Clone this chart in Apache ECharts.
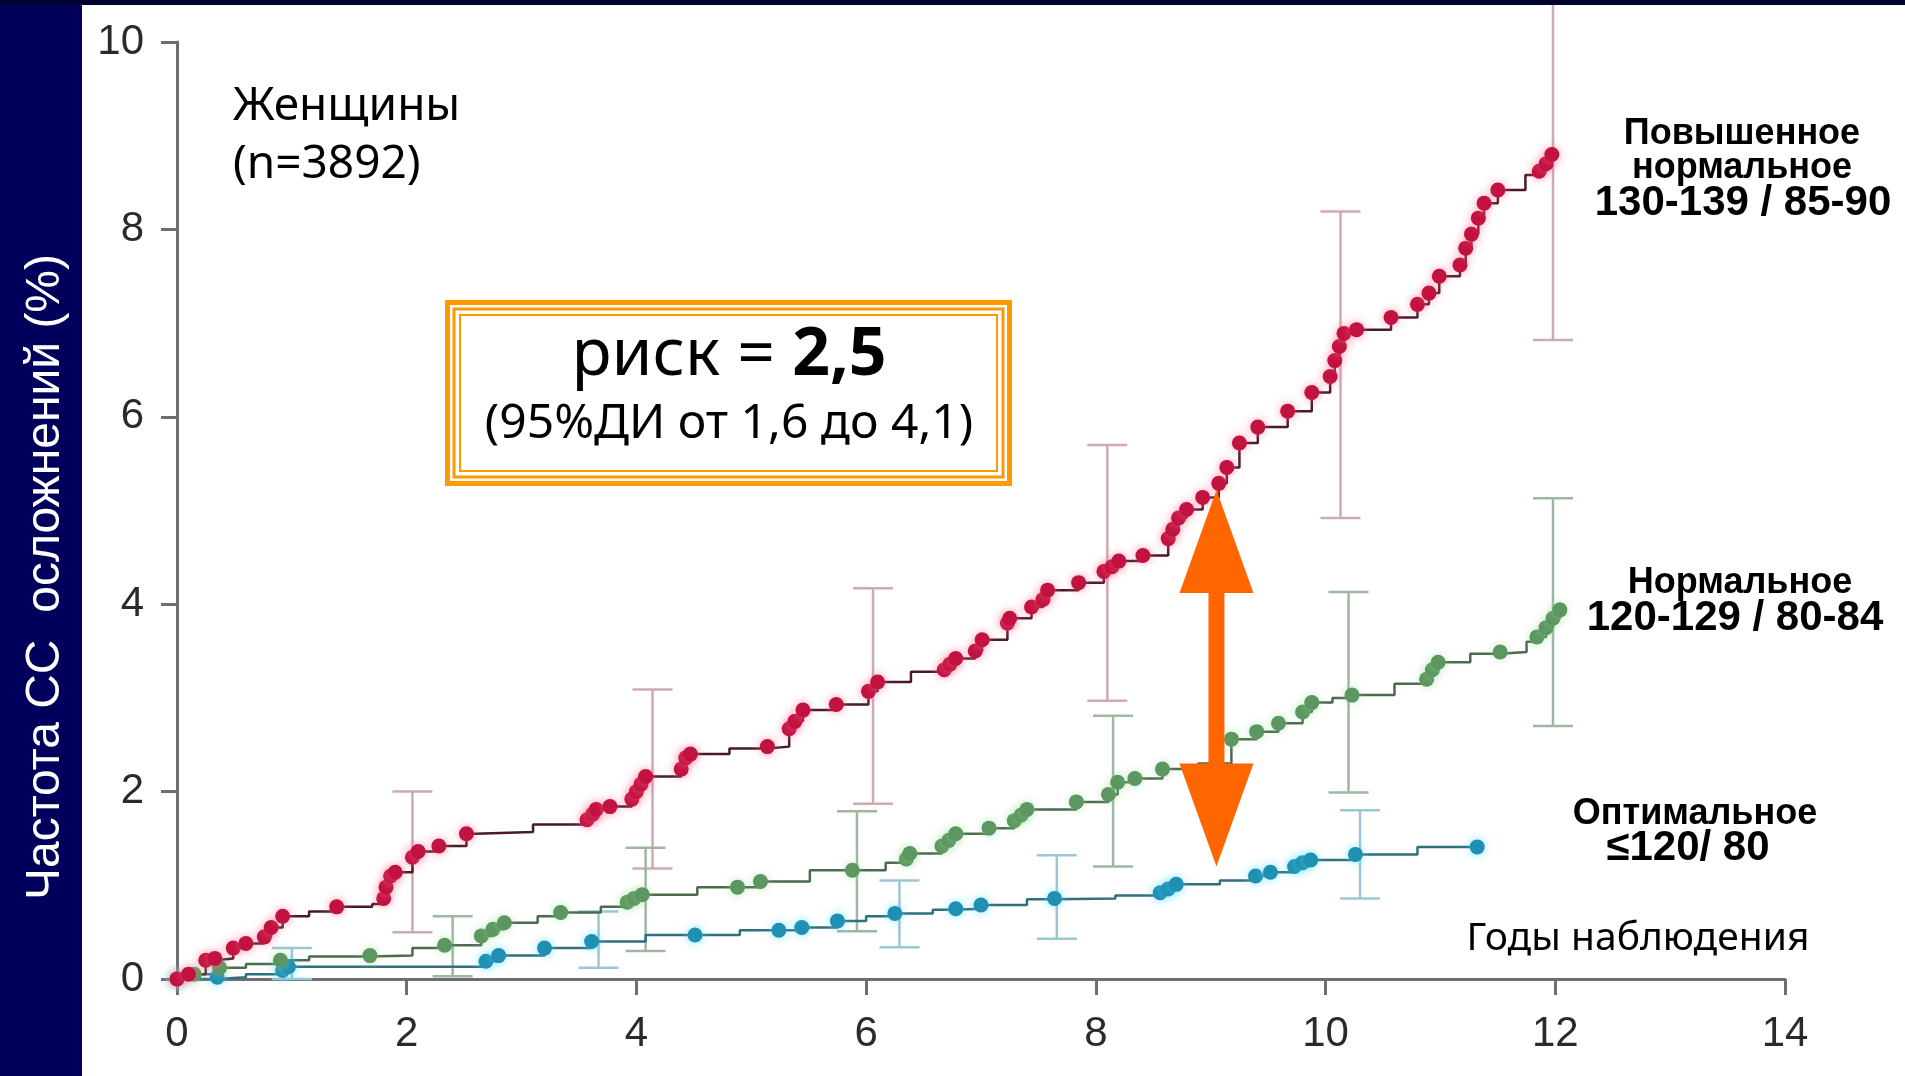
<!DOCTYPE html>
<html>
<head>
<meta charset="utf-8">
<title>Женщины — частота СС осложнений</title>
<script src="https://cdn.jsdelivr.net/npm/echarts@6/dist/echarts.min.js"></script>
<style>
  html, body {
    margin: 0;
    padding: 0;
    width: 1905px;
    height: 1076px;
    overflow: hidden;
    background: #00005c;
  }
  #topStrip {
    position: absolute;
    left: 0;
    top: 0;
    width: 1905px;
    height: 5px;
    background: #00002e;
    z-index: 2;
  }
  #panel {
    position: absolute;
    left: 82px;
    top: 5px;
    width: 1823px;
    height: 1071px;
    background: #fff;
  }
  #chart {
    position: absolute;
    left: 0;
    top: 0;
    width: 1905px;
    height: 1076px;
  }
</style>
</head>
<body>
<div id="panel"></div>
<div id="chart"></div>
<div id="topStrip"></div>

<script>
// axis ticks
const xTicks = [0, 2, 4, 6, 8, 10, 12, 14];
const yTicks = [0, 2, 4, 6, 8, 10];

// cumulative incidence curves: [year, %, marker (1) / plain step (0)]
const highNormal = [
  [0, 0, 1], [0.1, 0.05, 1], [0.25, 0.2, 1], [0.33, 0.22, 1], [0.49, 0.33, 1],
  [0.6, 0.38, 1], [0.76, 0.45, 1], [0.82, 0.55, 1], [0.92, 0.67, 1], [1.15, 0.72, 0],
  [1.39, 0.77, 1], [1.7, 0.8, 0], [1.8, 0.86, 1], [1.82, 0.98, 1], [1.86, 1.1, 1],
  [1.9, 1.14, 1], [2.05, 1.3, 1], [2.1, 1.36, 1], [2.28, 1.42, 1], [2.52, 1.55, 1],
  [2.6, 1.57, 0], [3.1, 1.65, 0], [3.57, 1.7, 1], [3.62, 1.76, 1], [3.65, 1.81, 1],
  [3.77, 1.84, 1], [3.96, 1.92, 1], [4.0, 2.0, 1], [4.04, 2.08, 1], [4.08, 2.16, 1],
  [4.39, 2.24, 1], [4.43, 2.36, 1], [4.47, 2.4, 1], [4.81, 2.46, 0], [5.14, 2.48, 1],
  [5.33, 2.67, 1], [5.38, 2.75, 1], [5.45, 2.87, 1], [5.74, 2.93, 1], [6.02, 3.07, 1],
  [6.1, 3.17, 1], [6.39, 3.28, 0], [6.68, 3.3, 1], [6.73, 3.36, 1], [6.78, 3.42, 1],
  [6.95, 3.5, 1], [7.01, 3.62, 1], [7.23, 3.8, 1], [7.25, 3.85, 1], [7.44, 3.97, 1],
  [7.54, 4.05, 1], [7.58, 4.15, 1], [7.85, 4.23, 1], [8.07, 4.35, 1], [8.14, 4.4, 1],
  [8.2, 4.46, 1], [8.41, 4.52, 1], [8.63, 4.7, 1], [8.67, 4.8, 1], [8.72, 4.92, 1],
  [8.79, 5.01, 1], [8.93, 5.14, 1], [9.07, 5.29, 1], [9.14, 5.46, 1], [9.25, 5.72, 1],
  [9.41, 5.89, 1], [9.67, 6.06, 1], [9.88, 6.26, 1], [10.04, 6.43, 1], [10.08, 6.6, 1],
  [10.12, 6.75, 1], [10.16, 6.89, 1], [10.27, 6.93, 1], [10.57, 7.06, 1], [10.8, 7.2, 1],
  [10.9, 7.32, 1], [10.99, 7.5, 1], [11.17, 7.62, 1], [11.22, 7.8, 1], [11.27, 7.95, 1],
  [11.33, 8.12, 1], [11.38, 8.28, 1], [11.5, 8.42, 1], [11.74, 8.58, 0], [11.86, 8.62, 1],
  [11.92, 8.7, 1], [11.97, 8.8, 1]
];

const normal = [
  [0, 0, 1], [0.15, 0.05, 1], [0.37, 0.12, 1], [0.6, 0.16, 0], [0.9, 0.2, 1],
  [1.15, 0.24, 0], [1.68, 0.25, 1], [2.05, 0.33, 0], [2.33, 0.36, 1], [2.65, 0.46, 1],
  [2.75, 0.53, 1], [2.85, 0.6, 1], [3.14, 0.67, 0], [3.34, 0.71, 1], [3.69, 0.77, 0],
  [3.92, 0.82, 1], [3.98, 0.86, 1], [4.05, 0.9, 1], [4.53, 0.98, 0], [4.88, 0.98, 1],
  [5.08, 1.04, 1], [5.51, 1.16, 0], [5.88, 1.16, 1], [6.17, 1.24, 0], [6.35, 1.28, 1],
  [6.38, 1.34, 1], [6.66, 1.42, 1], [6.72, 1.48, 1], [6.78, 1.55, 1], [7.07, 1.61, 1],
  [7.29, 1.69, 1], [7.35, 1.75, 1], [7.4, 1.81, 1], [7.83, 1.89, 1], [8.11, 1.97, 1],
  [8.19, 2.1, 1], [8.34, 2.14, 1], [8.58, 2.24, 1], [8.89, 2.3, 0], [9.18, 2.56, 1],
  [9.4, 2.64, 1], [9.59, 2.73, 1], [9.8, 2.85, 1], [9.88, 2.95, 1], [10.06, 3.0, 0],
  [10.23, 3.03, 1], [10.6, 3.15, 0], [10.88, 3.2, 1], [10.93, 3.3, 1], [10.98, 3.38, 1],
  [11.26, 3.47, 0], [11.52, 3.49, 1], [11.75, 3.6, 0], [11.84, 3.65, 1], [11.92, 3.75, 1],
  [11.98, 3.85, 1], [12.04, 3.94, 1]
];

const optimal = [
  [0, 0, 1], [0.35, 0.02, 1], [0.6, 0.05, 0], [0.92, 0.09, 1], [0.97, 0.13, 1],
  [2.69, 0.19, 1], [2.8, 0.25, 1], [3.2, 0.33, 1], [3.61, 0.4, 1], [4.08, 0.47, 0],
  [4.51, 0.47, 1], [4.9, 0.52, 0], [5.24, 0.52, 1], [5.44, 0.55, 1], [5.75, 0.62, 1],
  [6.0, 0.67, 0], [6.25, 0.7, 1], [6.58, 0.74, 0], [6.78, 0.75, 1], [7.0, 0.79, 1],
  [7.4, 0.85, 0], [7.64, 0.86, 1], [8.17, 0.89, 0], [8.56, 0.92, 1], [8.63, 0.96, 1],
  [8.7, 1.01, 1], [9.08, 1.05, 0], [9.39, 1.1, 1], [9.52, 1.14, 1], [9.73, 1.2, 1],
  [9.8, 1.24, 1], [9.87, 1.27, 1], [10.26, 1.33, 1], [10.8, 1.41, 0], [11.32, 1.41, 1]
];

// 95% confidence intervals: [year, low, high]
const highNormalCI = [
  [2.05, 0.5, 2.0], [4.14, 1.18, 3.09], [6.06, 1.87, 4.17],
  [8.1, 2.97, 5.7], [10.13, 4.92, 8.19], [11.98, 6.82, 10.43]
];
const normalCI = [
  [2.4, 0.03, 0.67], [4.08, 0.3, 1.4], [5.92, 0.51, 1.79],
  [8.15, 1.2, 2.81], [10.2, 1.99, 4.13], [11.98, 2.7, 5.13]
];
const optimalCI = [
  [1.0, 0.0, 0.33], [3.67, 0.12, 0.72], [6.29, 0.34, 1.05],
  [7.66, 0.43, 1.32], [10.3, 0.86, 1.8]
];

// double arrow between curves: [year, bottom, top]
const gapArrow = [[9.05, 1.2, 5.22]];

function toItems(points) {
  return points.map(function (p) {
    return { value: [p[0], p[1]], symbol: p[2] ? "circle" : "none" };
  });
}

function errorBar(color) {
  return function (params, api) {
    const x = api.value(0);
    const lo = api.coord([x, api.value(1)]);
    const hi = api.coord([x, api.value(2)]);
    const half = 20;
    const style = { stroke: color, lineWidth: 2.5 };
    return {
      type: "group",
      children: [
        { type: "line", shape: { x1: lo[0], y1: lo[1], x2: hi[0], y2: hi[1] }, style: style },
        { type: "line", shape: { x1: hi[0] - half, y1: hi[1], x2: hi[0] + half, y2: hi[1] }, style: style },
        { type: "line", shape: { x1: lo[0] - half, y1: lo[1], x2: lo[0] + half, y2: lo[1] }, style: style },
      ],
    };
  };
}

function stepSeries(name, points, dotColor, lineColor, glow) {
  return {
    name: name,
    type: "line",
    step: "end",
    z: 3,
    symbolSize: 15,
    data: toItems(points),
    lineStyle: { color: lineColor, width: 2.5 },
    itemStyle: { color: dotColor, shadowColor: glow, shadowBlur: 10 },
  };
}

function ciSeries(data, color) {
  return {
    type: "custom",
    z: 1,
    clip: false,
    encode: { x: 0, y: [1, 2] },
    renderItem: errorBar(color),
    data: data,
  };
}

const sans = '"Noto Sans", "DejaVu Sans", sans-serif';
const arial = '"Liberation Sans", Arial, sans-serif';

function label(x, y, text, font, opts) {
  return Object.assign({
    type: "text",
    x: x,
    y: y,
    z: 10,
    style: { text: text, font: font, fill: "#000", align: "center", verticalAlign: "middle" },
  }, opts || {});
}

const axisStyle = { color: "#6e6e6e", width: 3 };
const tickLabel = { color: "#2a2a2a", fontSize: 42, fontFamily: arial };

const chart = echarts.init(document.getElementById("chart"));

const option = {
  animation: false,
  grid: { left: 177, right: 120, top: 42, bottom: 97 },
  xAxis: {
    type: "value",
    min: xTicks[0],
    max: xTicks[xTicks.length - 1],
    interval: 2,
    splitLine: { show: false },
    axisLine: { onZero: false, lineStyle: axisStyle },
    axisTick: { length: 16, lineStyle: axisStyle },
    axisLabel: Object.assign({ margin: 34 }, tickLabel),
  },
  yAxis: {
    type: "value",
    min: yTicks[0],
    max: yTicks[yTicks.length - 1],
    interval: 2,
    splitLine: { show: false },
    axisLine: { show: true, lineStyle: axisStyle },
    axisTick: { show: true, length: 16, lineStyle: axisStyle },
    axisLabel: Object.assign({ margin: 33 }, tickLabel),
  },
  series: [
    ciSeries(highNormalCI, "#cfaab2"),
    ciSeries(normalCI, "#9fb7a0"),
    ciSeries(optimalCI, "#9cc6d2"),
    stepSeries("Оптимальное", optimal, "#1f8fb2", "#2f6f80", "rgba(80,220,255,0.7)"),
    stepSeries("Нормальное", normal, "#5c9660", "#4a6b4c", "rgba(150,220,150,0.6)"),
    stepSeries("Повышенное нормальное", highNormal, "#c2123f", "#4a1a28", "rgba(255,110,150,0.7)"),
    {
      type: "custom",
      z: 5,
      clip: false,
      encode: { x: 0, y: [1, 2] },
      data: gapArrow,
      renderItem: function (params, api) {
        const top = api.coord([api.value(0), api.value(2)]);
        const bot = api.coord([api.value(0), api.value(1)]);
        const cx = top[0];
        const head = 103, hw = 37, sw = 8;
        return {
          type: "polygon",
          shape: {
            points: [
              [cx, top[1]], [cx + hw, top[1] + head], [cx + sw, top[1] + head],
              [cx + sw, bot[1] - head], [cx + hw, bot[1] - head], [cx, bot[1]],
              [cx - hw, bot[1] - head], [cx - sw, bot[1] - head],
              [cx - sw, top[1] + head], [cx - hw, top[1] + head],
            ],
          },
          style: { fill: "#ff6600" },
        };
      },
    },
  ],
  graphic: [
    // y axis title on the navy band
    label(46, 577, "Частота СС  осложнений (%)", "48px " + arial, {
      rotation: Math.PI / 2,
      style: { text: "Частота СС  осложнений (%)", font: "48px " + arial, fill: "#fff", align: "center", verticalAlign: "middle" },
    }),
    {
      type: "text", x: 233, y: 107, z: 10,
      style: { text: "Женщины", font: "46px " + sans, fill: "#000", align: "left", verticalAlign: "middle" },
    },
    {
      type: "text", x: 233, y: 165, z: 10,
      style: { text: "(n=3892)", font: "46px " + sans, fill: "#000", align: "left", verticalAlign: "middle" },
    },

    // risk box, triple orange frame
    { type: "rect", z: 9, shape: { x: 447.5, y: 302.5, width: 562, height: 181 }, style: { fill: "#fff", stroke: "#ff9900", lineWidth: 5 } },
    { type: "rect", z: 9, shape: { x: 454, y: 309, width: 549, height: 168 }, style: { fill: "none", stroke: "#ff9900", lineWidth: 3 } },
    { type: "rect", z: 9, shape: { x: 460, y: 315, width: 537, height: 156 }, style: { fill: "none", stroke: "#ff9900", lineWidth: 2 } },
    {
      type: "text", x: 729, y: 356, z: 10,
      style: {
        text: "{n|риск = }{b|2,5}",
        align: "center",
        verticalAlign: "middle",
        rich: {
          n: { font: "66px " + sans, fill: "#000" },
          b: { font: "bold 66px " + sans, fill: "#000" },
        },
      },
    },
    label(729, 424, "(95%ДИ от 1,6 до 4,1)", "48px " + sans),

    // curve labels
    label(1742, 134, "Повышенное", "bold 36px " + arial),
    label(1742, 168, "нормальное", "bold 36px " + arial),
    label(1743, 203, "130-139 / 85-90", "bold 42px " + arial),
    label(1740, 583, "Нормальное", "bold 36px " + arial),
    label(1735, 618, "120-129 / 80-84", "bold 42px " + arial),
    label(1695, 814, "Оптимальное", "bold 36px " + arial),
    label(1688, 848, "≤120/ 80", "bold 42px " + arial),
    label(1638, 939, "Годы наблюдения", "39px " + sans),
  ],
};

chart.setOption(option);
</script>
</body>
</html>
